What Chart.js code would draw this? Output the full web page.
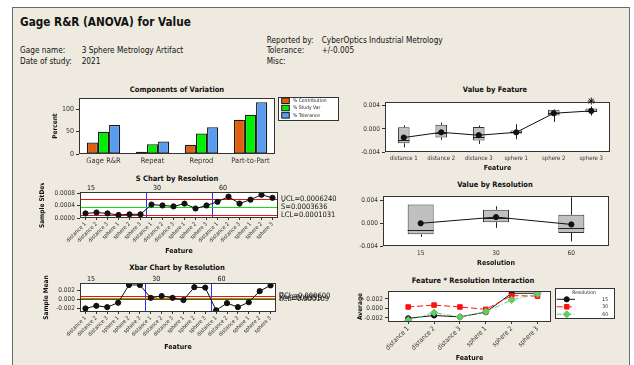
<!DOCTYPE html>
<html>
<head>
<meta charset="utf-8">
<title>Gage R&amp;R (ANOVA) for Value</title>
<script src="https://cdn.jsdelivr.net/npm/chart.js@4.4.1/dist/chart.umd.min.js"></script>
<style>
  html, body { margin: 0; padding: 0; background: #ffffff; width: 634px; height: 365px; overflow: hidden; }
  #panel { position: absolute; left: 12px; top: 7px; width: 618px; height: 362px; background: #EEEAE0; border: 1px solid #6a6a6a; box-sizing: border-box; }
  .t { position: absolute; white-space: nowrap; font-family: 'DejaVu Sans Condensed', 'DejaVu Sans', sans-serif; color: #111; }
  canvas { position: absolute; }
</style>
</head>
<body>
<div id="panel"></div>
<script>
// ---------- data ----------
const features = ['distance 1', 'distance 2', 'distance 3', 'sphere 1', 'sphere 2', 'sphere 3'];
const resolutions = ['15', '30', '60'];

const compCats = ['Gage R&R', 'Repeat', 'Reprod', 'Part-to-Part'];
const pctContribution = [26, 5, 21, 77];
const pctStudyVar = [50, 22, 46, 88];
const pctTolerance = [65, 28, 60, 116];

// box plot summaries by feature
const featQ1 = [-0.0025, -0.0015, -0.0020, -0.0008, 0.0023, 0.0029];
const featQ3 = [0.00026, 0.0007, 0.0003, -0.0003, 0.0033, 0.0035];
const featMedian = [-0.0020, -0.0007, -0.0014, -0.0006, 0.0027, 0.0031];
const featLow = [-0.0032, -0.0019, -0.0026, -0.0018, 0.0012, 0.0023];
const featHigh = [0.0006, 0.0011, 0.0006, 0.0008, 0.0034, 0.0039];
const featMean = [-0.0015, -0.0006, -0.0011, -0.0006, 0.0027, 0.0031];
const featOutlier = [null, null, null, null, null, 0.0048];

// box plot summaries by resolution
const resQ1 = [-0.00195, 0.0002, -0.0017];
const resQ3 = [0.0033, 0.0024, 0.0015];
const resMedian = [-0.0011, 0.0009, -0.0008];
const resLow = [-0.0024, -0.0008, -0.0032];
const resHigh = [0.0033, 0.0030, 0.0046];
const resMean = [0.0000, 0.0011, -0.0002];

// feature averages per resolution
const avg15 = [-0.0021, -0.0015, -0.0018, -0.0008, 0.0032, 0.0032];
const avg30 = [0.0003, 0.0007, 0.0003, -0.0002, 0.0027, 0.0026];
const avg60 = [-0.0025, -0.0009, -0.0018, -0.0007, 0.0018, 0.0031];

// sample standard deviations per resolution
const sd15 = [0.00015, 0.00018, 0.00015, 0.00010, 0.00012, 0.00012];
const sd30 = [0.00044, 0.00041, 0.00038, 0.00047, 0.00031, 0.00041];
const sd60 = [0.00053, 0.00070, 0.00047, 0.00060, 0.00076, 0.00066];

const sUCL = 0.0006240, sBar = 0.0003636, sLCL = 0.0001031;
const xUCL = 0.000600, xBar = 0.000355, xLCL = 0.000109;

// ---------- page text ----------
const FONT = "'DejaVu Sans Condensed', 'DejaVu Sans', sans-serif";
function text(str, x, y, size, bold, center) {
  const d = document.createElement('div');
  d.className = 't';
  d.textContent = str;
  d.style.fontSize = size + 'px';
  d.style.lineHeight = (size * 1.2) + 'px';
  d.style.left = x + 'px';
  d.style.top = (y - size * 0.6) + 'px';
  if (bold) d.style.fontWeight = 'bold';
  if (center) d.style.transform = 'translateX(-50%)';
  document.body.appendChild(d);
}
text('Gage R&R (ANOVA) for Value', 20, 22.5, 11.7, true, false);
text('Gage name:', 20, 51.3, 8.2);
text('3 Sphere Metrology Artifact', 81.7, 51.3, 8.2);
text('Date of study:', 20, 62, 8.2);
text('2021', 81.7, 62, 8.2);
text('Reported by:', 266.7, 41.3, 8.2);
text('CyberOptics Industrial Metrology', 321.7, 41.3, 8.2);
text('Tolerance:', 266.7, 51.3, 8.2);
text('+/-0.005', 321.7, 51.3, 8.2);
text('Misc:', 266.7, 62, 8.2);

text('Components of Variation', 177, 89, 7.5, true, true);
text('Value by Feature', 495, 89, 7.5, true, true);
text('S Chart by Resolution', 177, 178, 7.5, true, true);
text('Value by Resolution', 495, 184, 7.5, true, true);
text('Xbar Chart by Resolution', 177, 267, 7.5, true, true);
text('Feature * Resolution Interaction', 473, 280.3, 7.5, true, true);

// ---------- chart defaults ----------
Chart.defaults.font.family = FONT;
Chart.defaults.font.size = 6.5;
Chart.defaults.color = '#222';
Chart.defaults.animation = false;
Chart.defaults.responsive = false;
Chart.defaults.devicePixelRatio = 1;
Chart.defaults.events = [];
Chart.defaults.plugins.legend.display = false;
Chart.defaults.plugins.tooltip.enabled = false;

function makeCanvas(x, y, w, h) {
  const c = document.createElement('canvas');
  c.width = w; c.height = h;
  c.style.left = x + 'px'; c.style.top = y + 'px';
  c.style.width = w + 'px'; c.style.height = h + 'px';
  document.body.appendChild(c);
  return c;
}

function yAxis(width, min, max, tickVals, fmt, title, titlePad, size) {
  return {
    min: min, max: max,
    afterFit: s => { s.width = width; },
    afterBuildTicks: s => { s.ticks = tickVals.map(v => ({ value: v })); },
    ticks: { callback: v => fmt(v), padding: 2, font: { size: size || 6.5 }, color: '#333' },
    grid: { display: true, drawOnChartArea: false, drawTicks: true, tickLength: 3, color: '#333' },
    border: { display: false },
    title: title ? { display: true, text: title, font: { size: 6.5, weight: 'bold' }, color: '#111', padding: { top: titlePad || 0, bottom: 0 } } : { display: false }
  };
}

function xCategory(height, opts) {
  return {
    type: 'category',
    offset: true,
    afterFit: s => { s.height = height; },
    ticks: Object.assign({ autoSkip: false, maxRotation: 0, minRotation: 0, padding: 2, color: '#333', font: { size: 6 } }, opts.ticks || {}),
    grid: opts.tickLength
      ? { display: true, drawOnChartArea: false, drawTicks: true, tickLength: opts.tickLength, color: '#333' }
      : { display: false, drawTicks: false },
    border: { display: false },
    title: opts.title ? { display: true, text: opts.title, font: { size: 7, weight: 'bold' }, color: '#111', padding: 0 } : { display: false }
  };
}

// white plot area with a dark frame
const plotFrame = {
  id: 'plotFrame',
  beforeDraw(chart) {
    const a = chart.chartArea, ctx = chart.ctx;
    ctx.save();
    ctx.fillStyle = '#ffffff';
    ctx.fillRect(a.left, a.top, a.right - a.left, a.bottom - a.top);
    ctx.restore();
  },
  afterDatasetsDraw(chart) {
    const a = chart.chartArea, ctx = chart.ctx;
    ctx.save();
    ctx.strokeStyle = '#333';
    ctx.lineWidth = 1;
    ctx.strokeRect(Math.round(a.left) + 0.5, Math.round(a.top) + 0.5, Math.round(a.right - a.left) - 1, Math.round(a.bottom - a.top) - 1);
    ctx.restore();
  }
};

// whiskers and median lines for box plots drawn as floating bars
function boxParts(id, datasetIndex, low, high, median) {
  return {
    id: id,
    afterDatasetDraw(chart, args) {
      if (args.index !== datasetIndex) return;
      const ctx = chart.ctx, y = chart.scales.y;
      const meta = chart.getDatasetMeta(datasetIndex);
      const q = chart.data.datasets[datasetIndex].data;
      ctx.save();
      ctx.strokeStyle = '#222';
      ctx.lineWidth = 1;
      meta.data.forEach((bar, i) => {
        const p = bar.getProps(['x', 'width'], true);
        const xs = Math.round(p.x) + 0.5;
        ctx.beginPath();
        ctx.moveTo(xs, y.getPixelForValue(q[i][1]));
        ctx.lineTo(xs, y.getPixelForValue(high[i]));
        ctx.moveTo(xs, y.getPixelForValue(q[i][0]));
        ctx.lineTo(xs, y.getPixelForValue(low[i]));
        const ym = Math.round(y.getPixelForValue(median[i])) + 0.5;
        ctx.moveTo(p.x - p.width / 2, ym);
        ctx.lineTo(p.x + p.width / 2, ym);
        ctx.stroke();
      });
      ctx.restore();
    }
  };
}

// control limits, subgroup separators and labels for the S / Xbar charts
function controlLimits(id, limits, labels, groupSize) {
  return {
    id: id,
    beforeDatasetsDraw(chart) {
      const ctx = chart.ctx, a = chart.chartArea, x = chart.scales.x, y = chart.scales.y;
      ctx.save();
      ctx.lineWidth = 1;
      ctx.strokeStyle = '#2233FF';
      for (let g = 1; g < resolutions.length; g++) {
        const px = Math.round((x.getPixelForValue(g * groupSize - 1) + x.getPixelForValue(g * groupSize)) / 2) + 0.5;
        ctx.beginPath(); ctx.moveTo(px, a.top); ctx.lineTo(px, a.bottom); ctx.stroke();
      }
      const colors = ['#EE1111', '#11DD11', '#EE1111'];
      limits.forEach((v, i) => {
        const py = Math.round(y.getPixelForValue(v)) + 0.5;
        ctx.strokeStyle = colors[i];
        ctx.beginPath(); ctx.moveTo(a.left, py); ctx.lineTo(a.right, py); ctx.stroke();
      });
      ctx.restore();
    },
    afterDraw(chart) {
      const ctx = chart.ctx, a = chart.chartArea, x = chart.scales.x, y = chart.scales.y;
      ctx.save();
      ctx.fillStyle = '#111';
      ctx.font = '7px ' + FONT;
      ctx.textAlign = 'center';
      ctx.textBaseline = 'bottom';
      resolutions.forEach((r, g) => {
        const px = (x.getPixelForValue(g * groupSize) + x.getPixelForValue(g * groupSize + 1)) / 2;
        ctx.fillText(r, px, a.top);
      });
      ctx.font = '7.5px ' + FONT;
      ctx.textAlign = 'left';
      ctx.textBaseline = 'middle';
      limits.forEach((v, i) => ctx.fillText(labels[i], a.right + 3, y.getPixelForValue(v)));
      ctx.restore();
    }
  };
}

// ---------- Components of Variation ----------
const compColors = ['#E0600F', '#00EE00', '#5A9BF0'];
new Chart(makeCanvas(45, 92, 295, 82), {
  type: 'bar',
  data: {
    labels: compCats,
    datasets: [
      { label: '% Contribution', data: pctContribution, backgroundColor: compColors[0] },
      { label: '% Study Var', data: pctStudyVar, backgroundColor: compColors[1] },
      { label: '% Tolerance', data: pctTolerance, backgroundColor: compColors[2] }
    ]
  },
  options: {
    layout: { padding: { left: 0, top: 3, right: 65, bottom: 0 } },
    datasets: { bar: { borderColor: '#1a1a1a', borderWidth: 1.3, borderSkipped: false, categoryPercentage: 0.68, barPercentage: 1 } },
    scales: {
      x: xCategory(20, { ticks: { font: { size: 7.5 }, padding: 3 } }),
      y: yAxis(34, 0, 125, [0, 50, 100], v => String(v), 'Percent', 6, 7)
    }
  },
  plugins: [plotFrame, {
    id: 'compLegend',
    afterDraw(chart) {
      const ctx = chart.ctx, bx = 233, by = 5, bw = 60, bh = 23;
      ctx.save();
      ctx.fillStyle = '#fff';
      ctx.fillRect(bx, by, bw, bh);
      ctx.strokeStyle = '#333';
      ctx.lineWidth = 1;
      ctx.strokeRect(bx + 0.5, by + 0.5, bw, bh);
      ctx.font = '5px ' + FONT;
      ctx.textBaseline = 'middle';
      chart.data.datasets.forEach((ds, i) => {
        const cy = by + 3.7 + i * 7.3;
        ctx.fillStyle = ds.backgroundColor;
        ctx.fillRect(bx + 3.7, cy - 2.7, 7.6, 5.5);
        ctx.strokeStyle = '#1a1a1a';
        ctx.strokeRect(bx + 3.7, cy - 2.7, 7.6, 5.5);
        ctx.fillStyle = '#222';
        ctx.fillText(ds.label, bx + 15, cy);
      });
      ctx.restore();
    }
  }]
});

// ---------- Value by Feature ----------
new Chart(makeCanvas(350, 96, 265, 76), {
  type: 'bar',
  data: {
    labels: features,
    datasets: [
      { type: 'line', data: featMean, borderColor: '#111', borderWidth: 1, pointRadius: 2.6, pointBackgroundColor: '#111', pointBorderColor: '#111', order: 1 },
      { type: 'line', data: featOutlier, showLine: false, pointStyle: 'star', pointRadius: 3.5, borderColor: '#111', borderWidth: 1, clip: false, order: 0 },
      { type: 'bar', data: featQ1.map((q, i) => [q, featQ3[i]]), backgroundColor: '#C0C0C0', borderColor: '#333', borderWidth: 1, borderSkipped: false, barPercentage: 0.31, categoryPercentage: 1, order: 2 }
    ]
  },
  options: {
    layout: { padding: { left: 0, top: 3, right: 5, bottom: 0 } },
    scales: {
      x: xCategory(20, { title: 'Feature', ticks: { font: { size: 6 }, padding: 3 } }),
      y: yAxis(35, -0.004, 0.00466, [-0.004, 0, 0.004], v => v.toFixed(3))
    }
  },
  plugins: [plotFrame, boxParts('featBoxes', 2, featLow, featHigh, featMedian)]
});

// ---------- S Chart by Resolution ----------
const groupLabels = [...features, ...features, ...features];
new Chart(makeCanvas(30, 183, 310, 72), {
  type: 'line',
  data: {
    labels: groupLabels,
    datasets: [{ data: [...sd15, ...sd30, ...sd60], borderColor: '#111', borderWidth: 1, pointRadius: 2.6, pointBackgroundColor: '#111', pointBorderColor: '#111' }]
  },
  options: {
    layout: { padding: { left: 0, top: 9, right: 62, bottom: 0 } },
    scales: {
      x: xCategory(37, { title: 'Feature', tickLength: 2, ticks: { font: { size: 5.5 }, maxRotation: 45, minRotation: 45, padding: 1 } }),
      y: yAxis(50, 0, 0.00085, [0, 0.0004, 0.0008], v => v.toFixed(4), 'Sample StDev', 8)
    }
  },
  plugins: [plotFrame, controlLimits('sLimits', [sUCL, sBar, sLCL],
    ['UCL=' + sUCL.toFixed(7), 'S\u0304=' + sBar.toFixed(7), 'LCL=' + sLCL.toFixed(7)], features.length)]
});

// ---------- Xbar Chart by Resolution ----------
new Chart(makeCanvas(30, 275, 310, 76), {
  type: 'line',
  data: {
    labels: groupLabels,
    datasets: [{ data: [...avg15, ...avg30, ...avg60], borderColor: '#111', borderWidth: 1, pointRadius: 2.6, pointBackgroundColor: '#111', pointBorderColor: '#111' }]
  },
  options: {
    layout: { padding: { left: 0, top: 8, right: 64, bottom: 0 } },
    scales: {
      x: xCategory(39, { title: 'Feature', tickLength: 2, ticks: { font: { size: 5.5 }, maxRotation: 45, minRotation: 45, padding: 1 } }),
      y: yAxis(50, -0.0029, 0.00364, [-0.002, 0, 0.002], v => v.toFixed(3), 'Sample Mean', 12)
    }
  },
  plugins: [plotFrame, controlLimits('xLimits', [xUCL, xBar, xLCL],
    ['UCL=' + xUCL.toFixed(6), 'X\u033F=' + xBar.toFixed(6), 'LCL=' + xLCL.toFixed(6)], features.length)]
});

// ---------- Value by Resolution ----------
new Chart(makeCanvas(345, 190, 270, 77), {
  type: 'bar',
  data: {
    labels: resolutions,
    datasets: [
      { type: 'line', data: resMean, borderColor: '#111', borderWidth: 1, pointRadius: 2.6, pointBackgroundColor: '#111', pointBorderColor: '#111', order: 1 },
      { type: 'bar', data: resQ1.map((q, i) => [q, resQ3[i]]), backgroundColor: '#C0C0C0', borderColor: '#333', borderWidth: 1, borderSkipped: false, barPercentage: 0.345, categoryPercentage: 1, order: 2 }
    ]
  },
  options: {
    layout: { padding: { left: 0, top: 3, right: 6, bottom: 0 } },
    scales: {
      x: xCategory(21, { title: 'Resolution', ticks: { font: { size: 6.5 }, padding: 3 } }),
      y: yAxis(38, -0.004, 0.00483, [-0.004, 0, 0.004], v => v.toFixed(3))
    }
  },
  plugins: [plotFrame, boxParts('resBoxes', 1, resLow, resHigh, resMedian)]
});

// ---------- Feature * Resolution Interaction ----------
const seriesStyles = [
  { color: '#111111', dash: [], point: 'circle', radius: 2.6 },
  { color: '#FF1010', dash: [6, 3], point: 'rect', radius: 3.2 },
  { color: '#66CC66', dash: [5, 2, 1, 2], point: 'rectRot', radius: 3.6 }
];
const interactionSeries = [avg15, avg30, avg60];
new Chart(makeCanvas(345, 285, 270, 77), {
  type: 'line',
  data: {
    datasets: interactionSeries.map((vals, k) => ({
      label: resolutions[k],
      data: vals.map((v, i) => ({ x: i, y: v })),
      borderColor: seriesStyles[k].color,
      backgroundColor: seriesStyles[k].color,
      borderDash: seriesStyles[k].dash,
      borderWidth: 1,
      pointStyle: seriesStyles[k].point,
      pointRadius: seriesStyles[k].radius,
      pointBackgroundColor: seriesStyles[k].color,
      pointBorderColor: seriesStyles[k].color,
      order: 3 - k
    }))
  },
  options: {
    layout: { padding: { left: 0, top: 3, right: 64, bottom: 0 } },
    scales: {
      x: {
        type: 'linear', min: -0.78, max: 5.52,
        afterFit: s => { s.height = 40; },
        afterBuildTicks: s => { s.ticks = features.map((f, i) => ({ value: i })); },
        ticks: { callback: v => features[v], autoSkip: false, maxRotation: 45, minRotation: 45, padding: 1, font: { size: 6.5 }, color: '#333' },
        grid: { display: true, drawOnChartArea: false, drawTicks: true, tickLength: 2, color: '#333' },
        border: { display: false },
        title: { display: true, text: 'Feature', font: { size: 7, weight: 'bold' }, color: '#111', padding: 0 }
      },
      y: yAxis(43, -0.00288, 0.0037, [-0.002, 0, 0.002], v => v.toFixed(3), 'Average', 11, 6.5)
    }
  },
  plugins: [plotFrame, {
    id: 'interactionLegend',
    afterDraw(chart) {
      const ctx = chart.ctx, bx = 210, by = 3, bw = 59, bh = 30;
      ctx.save();
      ctx.fillStyle = '#fff';
      ctx.fillRect(bx, by, bw, bh);
      ctx.strokeStyle = '#333';
      ctx.lineWidth = 1;
      ctx.strokeRect(bx + 0.5, by + 0.5, bw, bh);
      ctx.fillStyle = '#222';
      ctx.font = '5px ' + FONT;
      ctx.textBaseline = 'middle';
      ctx.textAlign = 'center';
      ctx.fillText('Resolution', bx + 29, by + 5);
      ctx.textAlign = 'right';
      chart.data.datasets.forEach((ds, k) => {
        const cy = by + 11.3 + k * 7.5;
        ctx.strokeStyle = ds.borderColor;
        ctx.fillStyle = ds.borderColor;
        ctx.setLineDash(ds.borderDash);
        ctx.beginPath(); ctx.moveTo(bx + 1.7, cy); ctx.lineTo(bx + 20, cy); ctx.stroke();
        ctx.setLineDash([]);
        Chart.helpers.drawPoint(ctx, { pointStyle: ds.pointStyle, radius: ds.pointRadius, borderWidth: 1, rotation: 0 }, bx + 11.7, cy);
        ctx.fillStyle = '#222';
        ctx.fillText(ds.label, bx + 53, cy);
      });
      ctx.restore();
    }
  }]
});
</script>
</body>
</html>
